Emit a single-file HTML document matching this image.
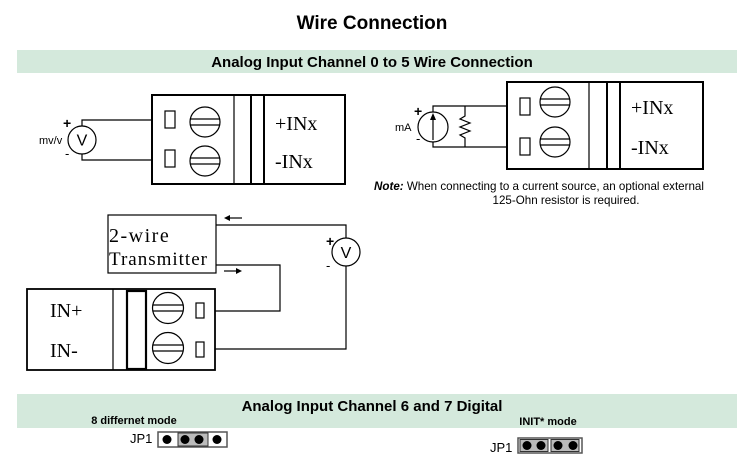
<!DOCTYPE html>
<html><head><meta charset="utf-8"><style>
body{margin:0;background:#fff;width:744px;height:458px;overflow:hidden}
</style></head><body>
<svg width="744" height="458" viewBox="0 0 744 458" xmlns="http://www.w3.org/2000/svg" font-family="Liberation Sans, sans-serif">
<text x="372" y="29" text-anchor="middle" font-size="19" font-weight="bold">Wire Connection</text>
<rect x="17" y="50" width="720" height="23" fill="#d4e9dc"/>
<text x="372" y="67" text-anchor="middle" font-size="15" font-weight="bold">Analog Input Channel 0 to 5 Wire Connection</text>

<g stroke="#000" fill="none" stroke-width="1.2">
<rect x="152" y="95" width="193" height="89" stroke-width="2"/>
<line x1="234" y1="95" x2="234" y2="184"/>
<line x1="251" y1="95" x2="251" y2="184" stroke-width="2"/>
<line x1="264" y1="95" x2="264" y2="184" stroke-width="2"/>
<rect x="165" y="111" width="10" height="17"/>
<rect x="165" y="150" width="10" height="17"/>
<circle cx="205" cy="122" r="15"/><line x1="190" y1="119" x2="220" y2="119"/><line x1="190" y1="125" x2="220" y2="125"/>
<circle cx="205" cy="161" r="15"/><line x1="190" y1="158" x2="220" y2="158"/><line x1="190" y1="164" x2="220" y2="164"/>
<polyline points="152,120 82,120 82,126"/>
<polyline points="152,160 82,160 82,154"/>
<circle cx="82" cy="140" r="14"/>
<rect x="507" y="82" width="196" height="87" stroke-width="2"/>
<line x1="589" y1="82" x2="589" y2="169"/>
<line x1="607" y1="82" x2="607" y2="169" stroke-width="2"/>
<line x1="620" y1="82" x2="620" y2="169" stroke-width="2"/>
<rect x="520" y="98" width="10" height="17"/>
<rect x="520" y="138" width="10" height="17"/>
<circle cx="555" cy="102" r="15"/><line x1="540" y1="99" x2="570" y2="99"/><line x1="540" y1="105" x2="570" y2="105"/>
<circle cx="555" cy="142" r="15"/><line x1="540" y1="139" x2="570" y2="139"/><line x1="540" y1="145" x2="570" y2="145"/>
<polyline points="507,106 433,106 433,112"/>
<polyline points="507,147 433,147 433,142"/>
<circle cx="433" cy="127" r="15"/>
<line x1="433" y1="140" x2="433" y2="117"/>
<polyline points="465,106 465,116 460,119 470,123 460,127 470,131 460,135 465,138 465,147"/>
<rect x="108" y="215" width="108" height="58"/>
<polyline points="216,225 346,225 346,238"/>
<circle cx="346" cy="252" r="14"/>
<polyline points="346,266 346,349 215,349"/>
<polyline points="216,265 280,265 280,311 215,311"/>
<line x1="226" y1="218" x2="242" y2="218"/>
<line x1="224" y1="271" x2="239" y2="271"/>
<rect x="27" y="289" width="188" height="81" stroke-width="1.8"/>
<line x1="113" y1="289" x2="113" y2="370"/>
<rect x="127" y="291" width="19" height="78" stroke-width="2.2"/>
<circle cx="168" cy="308" r="15.5"/><line x1="152.5" y1="305" x2="183.5" y2="305"/><line x1="152.5" y1="311" x2="183.5" y2="311"/>
<circle cx="168" cy="348" r="15.5"/><line x1="152.5" y1="345" x2="183.5" y2="345"/><line x1="152.5" y1="351" x2="183.5" y2="351"/>
<rect x="196" y="303" width="8" height="15"/>
<rect x="196" y="342" width="8" height="15"/>
</g>
<polygon points="224,218 230,215 230,221" fill="#000"/>
<polygon points="242,271 236,268 236,274" fill="#000"/>
<polygon points="433,113 430,120 436,120" fill="#000"/>

<g font-family="Liberation Serif, serif" font-size="20">
<text x="275" y="130">+INx</text><text x="275" y="168">-INx</text>
<text x="631" y="114">+INx</text><text x="631" y="154">-INx</text>
<text x="109" y="242" letter-spacing="1.5">2-wire</text><text x="109" y="265" font-size="19" letter-spacing="1">Transmitter</text>
<text x="50" y="317">IN+</text><text x="50" y="357">IN-</text>
</g>
<g font-size="11">
<text x="63" y="128" font-size="14" font-weight="bold">+</text>
<text x="39" y="144">mv/v</text>
<text x="65" y="158" font-size="13">-</text>
<text x="82" y="145.5" text-anchor="middle" font-size="16">V</text>
<text x="414" y="116" font-size="14" font-weight="bold">+</text>
<text x="395" y="131">mA</text>
<text x="416" y="143" font-size="13">-</text>
<text x="326" y="246" font-size="14" font-weight="bold">+</text>
<text x="326" y="270" font-size="13">-</text>
<text x="346" y="258" text-anchor="middle" font-size="16">V</text>
<text x="374" y="190" font-size="11.6"><tspan font-weight="bold" font-style="italic">Note:</tspan> When connecting to a current source, an optional external</text>
<text x="566" y="204" text-anchor="middle" font-size="11.6">125-Ohn resistor is required.</text>
</g>

<rect x="17" y="394" width="720" height="34" fill="#d4e9dc"/>
<text x="372" y="411" text-anchor="middle" font-size="15" font-weight="bold">Analog Input Channel 6 and 7 Digital</text>
<text x="134" y="424" text-anchor="middle" font-size="11" font-weight="bold">8 differnet mode</text>
<text x="548" y="425" text-anchor="middle" font-size="11" font-weight="bold">INIT* mode</text>
<text x="130" y="443" font-size="13">JP1</text>
<rect x="158" y="432" width="69" height="15" fill="#fff" stroke="#555" stroke-width="1.5"/>
<rect x="178" y="433" width="30" height="13" fill="#bbb" stroke="#333"/>
<g fill="#000"><circle cx="167" cy="439.5" r="4.5"/><circle cx="185" cy="439.5" r="4.5"/><circle cx="199" cy="439.5" r="4.5"/><circle cx="217" cy="439.5" r="4.5"/></g>
<text x="490" y="452" font-size="13">JP1</text>
<rect x="518" y="438" width="64" height="15" fill="#fff" stroke="#555" stroke-width="1.5"/>
<rect x="520" y="439.5" width="28" height="12" fill="#bbb" stroke="#333"/>
<rect x="551" y="439.5" width="28" height="12" fill="#bbb" stroke="#333"/>
<g fill="#000"><circle cx="527" cy="445.5" r="4.5"/><circle cx="541" cy="445.5" r="4.5"/><circle cx="558" cy="445.5" r="4.5"/><circle cx="573" cy="445.5" r="4.5"/></g>
</svg>
</body></html>
